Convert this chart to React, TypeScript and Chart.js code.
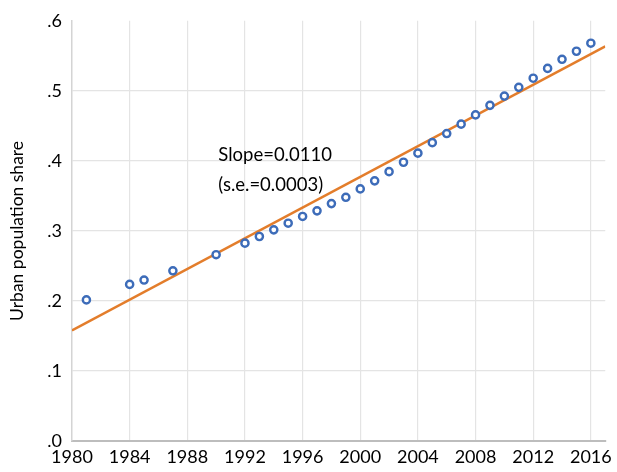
import React, { useEffect, useRef } from "react";
import { Chart, registerables } from "chart.js";

Chart.register(...registerables);

const years = [1981, 1984, 1985, 1987, 1990, 1992, 1993, 1994, 1995, 1996, 1997, 1998, 1999, 2000, 2001, 2002, 2003, 2004, 2005, 2006, 2007, 2008, 2009, 2010, 2011, 2012, 2013, 2014, 2015, 2016];
const urbanShare = [0.2015, 0.2236, 0.2298, 0.243, 0.266, 0.2825, 0.292, 0.3015, 0.311, 0.3206, 0.3286, 0.339, 0.348, 0.36, 0.3715, 0.3846, 0.398, 0.411, 0.426, 0.439, 0.4524, 0.4656, 0.4793, 0.4925, 0.505, 0.518, 0.532, 0.545, 0.5565, 0.568];
const fitYears = [1980, 2017];
const fitValues = [0.158, 0.5635];
const xTicks = [1980, 1984, 1988, 1992, 1996, 2000, 2004, 2008, 2012, 2016];
const yTicks = [0, 0.1, 0.2, 0.3, 0.4, 0.5, 0.6];
const annotationLines = ["Slope=0.0110", "(s.e.=0.0003)"];
const annotationAt = { x: 1990.15, y: [0.408, 0.366] };

const FONT = "Lato";

export default function App() {
  const ref = useRef<HTMLCanvasElement | null>(null);
  useEffect(() => {
    if (!ref.current) return;
    const annot = {
      id: "annot",
      afterDatasetsDraw(chart: any) {
        const ctx = chart.ctx;
        const xs = chart.scales.x;
        const ys = chart.scales.y;
        ctx.save();
        ctx.font = `18.5px ${FONT}`;
        ctx.fillStyle = "#000";
        ctx.textAlign = "left";
        ctx.textBaseline = "middle";
        annotationLines.forEach((t, i) => {
          ctx.fillText(t, xs.getPixelForValue(annotationAt.x), ys.getPixelForValue(annotationAt.y[i]));
        });
        ctx.restore();
      },
    };
    const chart = new Chart(ref.current, {
      type: "scatter",
      data: {
        datasets: [
          {
            type: "scatter",
            data: years.map((x, i) => ({ x, y: urbanShare[i] })),
            pointRadius: 3.6,
            pointBorderWidth: 2.4,
            pointBackgroundColor: "#ffffff",
            pointBorderColor: "#3D6CB9",
            order: 1,
          },
          {
            type: "line",
            data: fitYears.map((x, i) => ({ x, y: fitValues[i] })),
            borderColor: "#E37D2B",
            borderWidth: 2.5,
            pointRadius: 0,
            showLine: true,
            order: 2,
          },
        ],
      },
      options: {
        animation: false,
        responsive: false,
        maintainAspectRatio: false,
        layout: { padding: { top: 16, right: 10, left: 0, bottom: 0 } },
        plugins: { legend: { display: false }, tooltip: { enabled: false } },
        scales: {
          x: {
            type: "linear",
            min: 1980,
            max: 2017,
            afterBuildTicks: (s: any) => {
              s.ticks = xTicks.map((v) => ({ value: v }));
            },
            afterFit: (s: any) => {
              s.height = 31;
            },
            ticks: {
              font: { family: FONT, size: 18 },
              color: "#000",
              padding: 5,
              maxRotation: 0,
              callback: (v: any) => String(v),
            },
            grid: {
              color: (c: any) => (c.tick && c.tick.value === 1980 ? "rgba(0,0,0,0)" : "#E4E4E4"),
              lineWidth: 1.2,
              drawTicks: false,
            },
            border: { color: "#BDBDBD", width: 2 },
          },
          y: {
            type: "linear",
            min: 0,
            max: 0.6,
            afterBuildTicks: (s: any) => {
              s.ticks = yTicks.map((v) => ({ value: v }));
            },
            afterFit: (s: any) => {
              s.width = 72;
            },
            ticks: {
              font: { family: FONT, size: 18 },
              color: "#000",
              padding: 10,
              callback: (v: any) => Number(v).toFixed(1).replace(/^0/, ""),
            },
            grid: {
              color: (c: any) =>
                c.tick && (Math.abs(c.tick.value - 0.6) < 1e-9 || c.tick.value === 0) ? "rgba(0,0,0,0)" : "#E4E4E4",
              lineWidth: 1.2,
              drawTicks: false,
            },
            border: { color: "#D4D4D4", width: 1.5 },
            title: {
              display: true,
              text: "Urban population share",
              font: { family: FONT, size: 17.5 },
              color: "#000",
              padding: { top: 7, bottom: 4 },
            },
          },
        },
      },
      plugins: [annot],
    });
    return () => chart.destroy();
  }, []);
  return (
    <div style={{ position: "fixed", left: 0, top: 0, width: 617, height: 472, background: "#fff" }}>
      <canvas ref={ref} width={617} height={472} style={{ width: 617, height: 472, display: "block" }} />
    </div>
  );
}
